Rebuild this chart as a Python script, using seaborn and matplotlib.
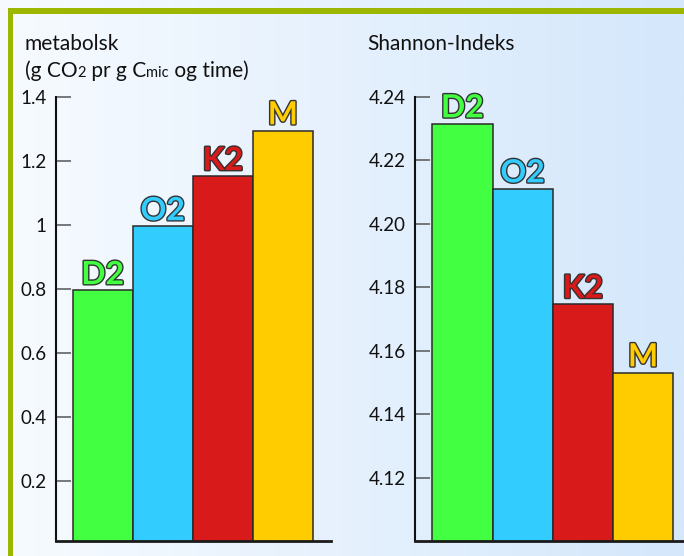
import numpy as np
import pandas as pd
import matplotlib
matplotlib.use("Agg")
import matplotlib.pyplot as plt
import matplotlib.patheffects as pe
from matplotlib.transforms import IdentityTransform
from matplotlib.colors import to_rgb
import seaborn as sns

# --- data -------------------------------------------------------------
groups = ["D2", "O2", "K2", "M"]
metabolic = [0.795, 0.995, 1.152, 1.295]
shannon = [4.2316, 4.2111, 4.1747, 4.1531]
metabolic_ticks = [0.2, 0.4, 0.6, 0.8, 1.0, 1.2, 1.4]
metabolic_ticklabels = ["0.2", "0.4", "0.6", "0.8", "1", "1.2", "1.4"]
shannon_ticks = [4.12, 4.14, 4.16, 4.18, 4.20, 4.22, 4.24]
shannon_ticklabels = ["4.12", "4.14", "4.16", "4.18", "4.20", "4.22", "4.24"]
bar_colors = ["#42ff42", "#33ccff", "#d91a1a", "#ffcc00"]

sns.set_theme(style="white")
plt.rcParams["font.family"] = ["Lato", "DejaVu Sans"]

W, H = 684, 556
fig = plt.figure(figsize=(W / 100, H / 100), dpi=100)

# --- background gradient and frame -------------------------------------
bg = fig.add_axes([0, 0, 1, 1], zorder=-10)
c0 = np.array(to_rgb("#f7fbff"))
c1 = np.array(to_rgb("#d4e7fb"))
t = np.linspace(0, 1, 256)[None, :, None]
grad = c0 + (c1 - c0) * t
bg.imshow(grad, extent=(0, W, H, 0), aspect="auto", interpolation="bilinear")
frame_col = "#9db600"
bg.add_patch(plt.Rectangle((8, 8), W - 8, 6, color=frame_col, lw=0))
bg.add_patch(plt.Rectangle((8, 8), 5, H - 8, color=frame_col, lw=0))
bg.set_xlim(0, W)
bg.set_ylim(H, 0)
bg.axis("off")


def px_axes(x0, x1, ytop, ybot):
    return fig.add_axes([x0 / W, (H - ybot) / H, (x1 - x0) / W, (ybot - ytop) / H])


def style_axes(ax, ticks, labels, pad):
    ax.set_facecolor("none")
    for s in ("top", "right"):
        ax.spines[s].set_visible(False)
    ax.spines["left"].set_color("#111111")
    ax.spines["left"].set_linewidth(1.5)
    ax.spines["bottom"].set_color("#1a1a1a")
    ax.spines["bottom"].set_linewidth(2.0)
    ax.set_xticks([])
    ax.set_yticks(ticks)
    ax.set_yticklabels(labels)
    ax.tick_params(axis="y", direction="in", length=11, width=1.1,
                   color="#555555", labelsize=13.5, labelcolor="#111111",
                   pad=pad, left=True)
    ax.set_xlabel("")
    ax.set_ylabel("")


def draw_bars(ax, values):
    df = pd.DataFrame({"group": groups, "value": values})
    sns.barplot(data=df, x="group", y="value", hue="group",
                palette=bar_colors, width=1.0, legend=False,
                edgecolor="#2a2a2a", linewidth=1.1, saturation=1, ax=ax)
    for i, (g, v, c) in enumerate(zip(groups, values, bar_colors)):
        ax.annotate(g, xy=(i, v), xytext=(0, 4.5), textcoords="offset points",
                    ha="center", va="baseline", fontsize=23, fontweight="bold",
                    color=c,
                    path_effects=[pe.Stroke(linewidth=2.0, foreground="#333333"),
                                  pe.Normal()])


# --- left panel: metabolic quotient -------------------------------------
ax1 = px_axes(56, 331, 97, 541)
draw_bars(ax1, metabolic)
ax1.set_xlim(-0.778, 3.80)
ax1.set_ylim(0.011, 1.4)
style_axes(ax1, metabolic_ticks, metabolic_ticklabels, pad=7)

# --- right panel: Shannon index -----------------------------------------
ax2 = px_axes(415, 684, 97, 541)
draw_bars(ax2, shannon)
ax2.set_xlim(-0.787, 3.678)
ax2.set_ylim(4.10, 4.24)
style_axes(ax2, shannon_ticks, shannon_ticklabels, pad=6.5)

# --- panel titles ----------------------------------------------------------
renderer = fig.canvas.get_renderer()


def rich_line(x_px, y_px, pieces):
    x = x_px
    for s, size in pieces:
        txt = fig.text(x, H - y_px, s, fontsize=size, ha="left", va="baseline",
                       color="#111111", transform=IdentityTransform())
        x += txt.get_window_extent(renderer).width


rich_line(25, 50, [("metabolsk", 15)])
rich_line(25, 77, [("(g CO", 15), ("2", 10.5), (" pr g C", 15),
                   ("mic", 10.5), (" og time)", 15)])
rich_line(367, 50, [("Shannon-Indeks", 15)])

fig.savefig("out.png", dpi=100)
